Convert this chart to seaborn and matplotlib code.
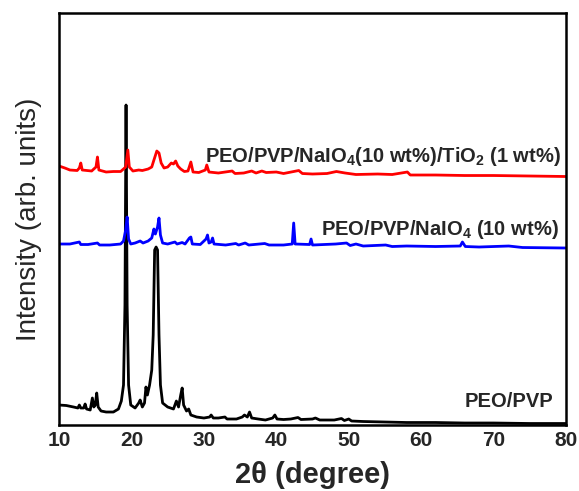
import matplotlib
matplotlib.use("Agg")
import matplotlib.pyplot as plt
import seaborn as sns
import pandas as pd

# ---- data (2theta in degrees, intensity in arbitrary offset units) ----
peo_pvp_x = [10, 11, 12, 12.6, 12.8, 13.0, 13.4, 13.6, 13.8, 14.3, 14.6, 14.8, 15.0, 15.2, 15.4,
             15.8, 16.5, 17.5, 18.2, 18.6, 18.9, 19.1, 19.25, 19.4, 19.6, 19.9, 20.5, 21.0, 21.2,
             21.5, 21.8, 22.0, 22.2, 22.5, 22.8, 23.0, 23.2, 23.4, 23.6, 23.8, 24.0, 24.3, 25.0,
             25.8, 26.2, 26.5, 26.8, 27.0, 27.2, 27.6, 27.9, 28.2, 29, 30, 30.8, 31.0, 31.3, 32,
             32.9, 33.2, 34.5, 35.3, 35.6, 36.0, 36.3, 36.6, 37.5, 38.5, 39.5, 39.8, 40.1, 41, 42,
             43, 43.4, 45, 45.4, 46, 48, 49, 49.4, 50, 50.4, 52, 55, 58, 62, 66, 70, 75, 80]
peo_pvp_y = [20, 19.5, 18, 17, 20, 17, 17, 21, 16, 15, 27, 18, 20, 32, 18,
             14, 13, 13, 16, 24, 40, 120, 320, 120, 40, 20, 17, 22, 25,
             18, 22, 38, 30, 40, 55, 90, 175, 178, 175, 90, 40, 22, 18,
             16, 24, 18, 30, 37, 20, 14, 16, 10, 8, 7, 8, 10, 7, 7,
             8, 6, 6, 8, 10, 8, 13, 7, 6, 5, 7, 10, 6, 5.5, 6,
             7.5, 5.5, 6, 7, 5, 5, 6.5, 4.5, 6, 4, 3.5, 3, 2.5, 2.5, 2, 2, 1.5, 1.5]

naio4_x = [10, 11.5, 12.8, 13.0, 14, 15.3, 15.6, 17, 18.5, 18.9, 19.2, 19.4, 19.6, 19.9, 20.5,
           21.2, 21.6, 22.3, 22.8, 23.1, 23.3, 23.6, 23.8, 24.0, 24.3, 25, 26.0, 26.3, 27.0,
           27.4, 28.0, 28.2, 28.4, 29.5, 30.3, 30.5, 30.7, 31.0, 31.2, 31.4, 33, 34.4, 34.8,
           35.7, 36.2, 38.4, 39, 41, 42.2, 42.4, 42.6, 44.6, 44.8, 45.0, 48.2, 49.7, 50.2, 51,
           52, 55.1, 56, 58, 62, 65.4, 65.7, 66.1, 68, 72.1, 74, 80]
naio4_y = [181, 181, 183, 180.5, 180.5, 182, 180, 180, 181, 184, 195, 208, 186, 181, 182,
           184, 182, 184, 187, 196, 191, 198, 207, 190, 182, 181, 183, 181, 182.5,
           181, 187, 188, 181, 180.5, 186, 190, 182, 183, 187, 181, 180, 181.5, 180,
           182, 180, 181.5, 180, 180, 181, 202, 181, 180.5, 186, 180, 181, 182, 179.5, 181,
           179, 180, 178.5, 179, 178.5, 179, 183, 178.5, 178, 179, 177.5, 177]

tio2_x = [10, 10.8, 11.5, 12.5, 12.8, 13.0, 13.2, 14.5, 15.1, 15.3, 15.5, 16.5, 17.5, 18.5, 18.9,
          19.2, 19.5, 19.7, 20.2, 21, 21.5, 22.3, 22.8, 23.1, 23.5, 23.8, 24.1, 24.5, 25.0,
          25.5, 25.8, 26.1, 26.4, 26.8, 27.3, 27.8, 28.2, 28.5, 29.3, 30.2, 30.4, 30.7, 32,
          33.9, 34.3, 35.5, 36.6, 37.2, 38.0, 38.6, 40, 41, 43.1, 43.6, 45, 47, 48.3, 49.5,
          51, 54, 56, 58.1, 58.5, 62, 66, 70, 75, 80]
tio2_y = [259, 257, 255, 254.5, 257, 262, 255, 254, 258, 268, 255, 253, 253.5, 253.5, 256,
          258, 275, 258, 254, 255, 254.5, 256, 258, 265, 274, 272, 262, 257, 258,
          262, 261, 264, 259, 256, 253.5, 254, 263, 253, 252.5, 255, 260, 253, 252,
          254, 251.5, 252, 254, 252, 254, 252.5, 253, 251.5, 254.5, 251.5, 251, 251.5, 253.5, 252,
          250.5, 251, 250.5, 253, 250, 250, 249.5, 249.5, 249, 248.5]

labels = ["PEO/PVP", "PEO/PVP/NaIO$_4$ (10 wt%)", "PEO/PVP/NaIO$_4$(10 wt%)/TiO$_2$ (1 wt%)"]
colors = ["#000000", "#0000ff", "#ff0000"]
xticks = [10, 20, 30, 40, 50, 60, 70, 80]

# ---- style ----
sns.set_style("white")
plt.rcParams["font.family"] = ["Liberation Sans", "DejaVu Sans"]
plt.rcParams["mathtext.fontset"] = "custom"
plt.rcParams["mathtext.rm"] = "Liberation Sans:bold"
plt.rcParams["mathtext.it"] = "Liberation Sans:bold"
plt.rcParams["mathtext.bf"] = "Liberation Sans:bold"
plt.rcParams["mathtext.default"] = "rm"

fig = plt.figure(figsize=(5.79, 4.91), dpi=100)
ax = fig.add_axes([0.102, 0.1344, 0.8755, 0.8391])

series = [(peo_pvp_x, peo_pvp_y), (naio4_x, naio4_y), (tio2_x, tio2_y)]
for (xs, ys), lab, col in zip(series, labels, colors):
    df = pd.DataFrame({"two_theta": xs, "intensity": ys})
    sns.lineplot(data=df, x="two_theta", y="intensity", color=col, lw=2.0,
                 estimator=None, sort=False, ax=ax)

ax.set_xlim(10, 80)
ax.set_ylim(0, 412)
ax.set_xticks(xticks)
ax.set_xticklabels([str(t) for t in xticks], fontsize=15, fontweight="bold")
ax.set_yticks([])
ax.tick_params(axis="x", length=0, pad=4)
for s in ax.spines.values():
    s.set_color("black")
    s.set_linewidth(1.8)

ax.set_xlabel("2θ (degree)", fontsize=21, fontweight="bold", labelpad=8)
ax.set_ylabel("Intensity (arb. units)", fontsize=20, fontweight="medium", labelpad=12)

# labels for each trace
ax.text(79.3, 263, labels[2], ha="right", va="baseline", fontsize=14.5, fontweight="bold")
ax.text(79.0, 190, labels[1], ha="right", va="baseline", fontsize=14.5, fontweight="bold")
ax.text(78.3, 18.3, labels[0], ha="right", va="baseline", fontsize=14.5, fontweight="bold")

fig.savefig("out.png", dpi=100)
